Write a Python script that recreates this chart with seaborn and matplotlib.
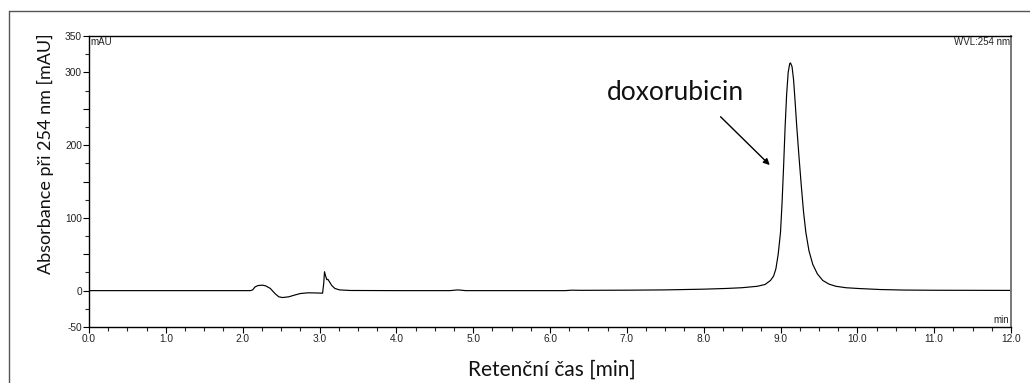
import numpy as np
import pandas as pd
import matplotlib
matplotlib.use("Agg")
import matplotlib.pyplot as plt
from matplotlib.lines import Line2D
import seaborn as sns

# Retention time [min] and absorbance [mAU]
time_min = [0.0, 1.0, 2.0, 2.10, 2.13, 2.16, 2.20, 2.26, 2.30, 2.36, 2.42, 2.47, 2.52, 2.60,
            2.68, 2.75, 2.85, 2.95, 3.04, 3.055, 3.065, 3.08, 3.095, 3.11, 3.13, 3.16,
            3.20, 3.26, 3.40, 4.00, 4.70, 4.80, 4.90, 6.20, 6.28, 6.40, 7.00, 7.50,
            8.00, 8.30, 8.50, 8.70, 8.80, 8.87, 8.91, 8.94, 8.97, 9.00, 9.02, 9.04,
            9.06, 9.08, 9.10, 9.12, 9.13, 9.15, 9.17, 9.19, 9.21, 9.24, 9.27, 9.30,
            9.33, 9.37, 9.42, 9.48, 9.55, 9.63, 9.72, 9.85, 10.0, 10.3, 10.6, 11.0, 12.0]
absorbance_mAU = [0.0, 0.0, 0.0, 0.0, 1.0, 5.0, 7.0, 7.5, 6.5, 3.0, -4.0, -8.5, -9.5, -8.5,
                  -6.0, -4.0, -3.0, -3.2, -3.5, 10.0, 26.0, 20.0, 15.0, 15.5, 12.0, 7.0,
                  3.0, 1.0, 0.2, 0.0, 0.0, 1.0, 0.0, 0.0, 0.6, 0.4, 0.6, 1.0,
                  2.0, 3.0, 4.0, 6.0, 8.5, 14.0, 20.0, 30.0, 50.0, 80.0, 120.0, 170.0,
                  225.0, 270.0, 300.0, 312.0, 313.0, 308.0, 290.0, 260.0, 228.0, 185.0, 145.0, 108.0,
                  80.0, 55.0, 36.0, 23.0, 14.0, 9.0, 6.0, 4.0, 3.0, 1.5, 0.8, 0.5, 0.3]

x_ticks = [0.0, 1.0, 2.0, 3.0, 4.0, 5.0, 6.0, 7.0, 8.0, 9.0, 10.0, 11.0, 12.0]
y_ticks = [-50, 0, 50, 100, 150, 200, 250, 300, 350]
y_tick_labels = ["-50", "0", "", "100", "", "200", "", "300", "350"]

peak_label = "doxorubicin"
x_label = "Retenční čas [min]"
y_label = "Absorbance při 254 nm [mAU]"

df = pd.DataFrame({"t": time_min, "A": absorbance_mAU})

sns.set_style("ticks")
plt.rcParams["font.family"] = ["Liberation Sans", "DejaVu Sans"]

fig = plt.figure(figsize=(10.30, 3.83), dpi=100)
ax = fig.add_axes([89 / 1030, 1 - 327 / 383, (1011 - 89) / 1030, (327 - 36) / 383])

sns.lineplot(data=df, x="t", y="A", ax=ax, color="black", linewidth=0.85,
             estimator=None, sort=False)

ax.set_xlim(0, 12)
ax.set_ylim(-50, 350)
ax.set_xticks(x_ticks)
ax.set_xticklabels([f"{v:.1f}" for v in x_ticks])
ax.set_xticks(np.arange(0, 12.01, 0.25), minor=True)
ax.set_yticks(y_ticks)
ax.set_yticklabels(y_tick_labels)
ax.set_yticks(np.arange(-50, 351, 25), minor=True)
ax.tick_params(axis="both", which="major", length=4, width=0.8, labelsize=7.3,
               pad=1, colors="black", labelcolor="#222222")
ax.tick_params(axis="both", which="minor", length=3, width=0.8)
ax.set_xlabel("")
ax.set_ylabel("")

for side in ["left", "bottom", "top"]:
    ax.spines[side].set_color("black")
    ax.spines[side].set_linewidth(1.0)
ax.spines["right"].set_visible(True)
ax.spines["right"].set_color("#777777")
ax.spines["right"].set_linewidth(1.4)

ax.text(0.002, 0.995, "mAU", transform=ax.transAxes, ha="left", va="top",
        fontsize=7, color="#222222")
ax.text(0.999, 0.995, "WVL:254 nm", transform=ax.transAxes, ha="right", va="top",
        fontsize=7, color="#222222")
ax.text(0.998, 0.008, "min", transform=ax.transAxes, ha="right", va="bottom",
        fontsize=7, color="#222222")

ax.text(7.63, 273, peak_label, ha="center", va="center", fontsize=19,
        family=["Lato", "DejaVu Sans"], color="#111111")
ax.annotate("", xy=(8.86, 172.6), xytext=(8.22, 239),
            arrowprops=dict(arrowstyle="-|>", color="black", lw=1.0,
                            mutation_scale=9, shrinkA=0, shrinkB=0))

fig.text(45 / 1030, 1 - 154 / 383, y_label, rotation=90, ha="center", va="center",
         fontsize=13, family=["Lato", "DejaVu Sans"], color="#111111")
fig.text(552 / 1030, 1 - 370 / 383, x_label, ha="center", va="center",
         fontsize=15, family=["Lato", "DejaVu Sans"], color="#111111")

# outer frame
fig.add_artist(Line2D([9 / 1030, 9 / 1030], [0, 1 - 11 / 383], transform=fig.transFigure,
                      color="#555555", lw=1.0))
fig.add_artist(Line2D([9 / 1030, 1], [1 - 11 / 383, 1 - 11 / 383], transform=fig.transFigure,
                      color="#555555", lw=1.0))

fig.savefig("out.png", dpi=100)
